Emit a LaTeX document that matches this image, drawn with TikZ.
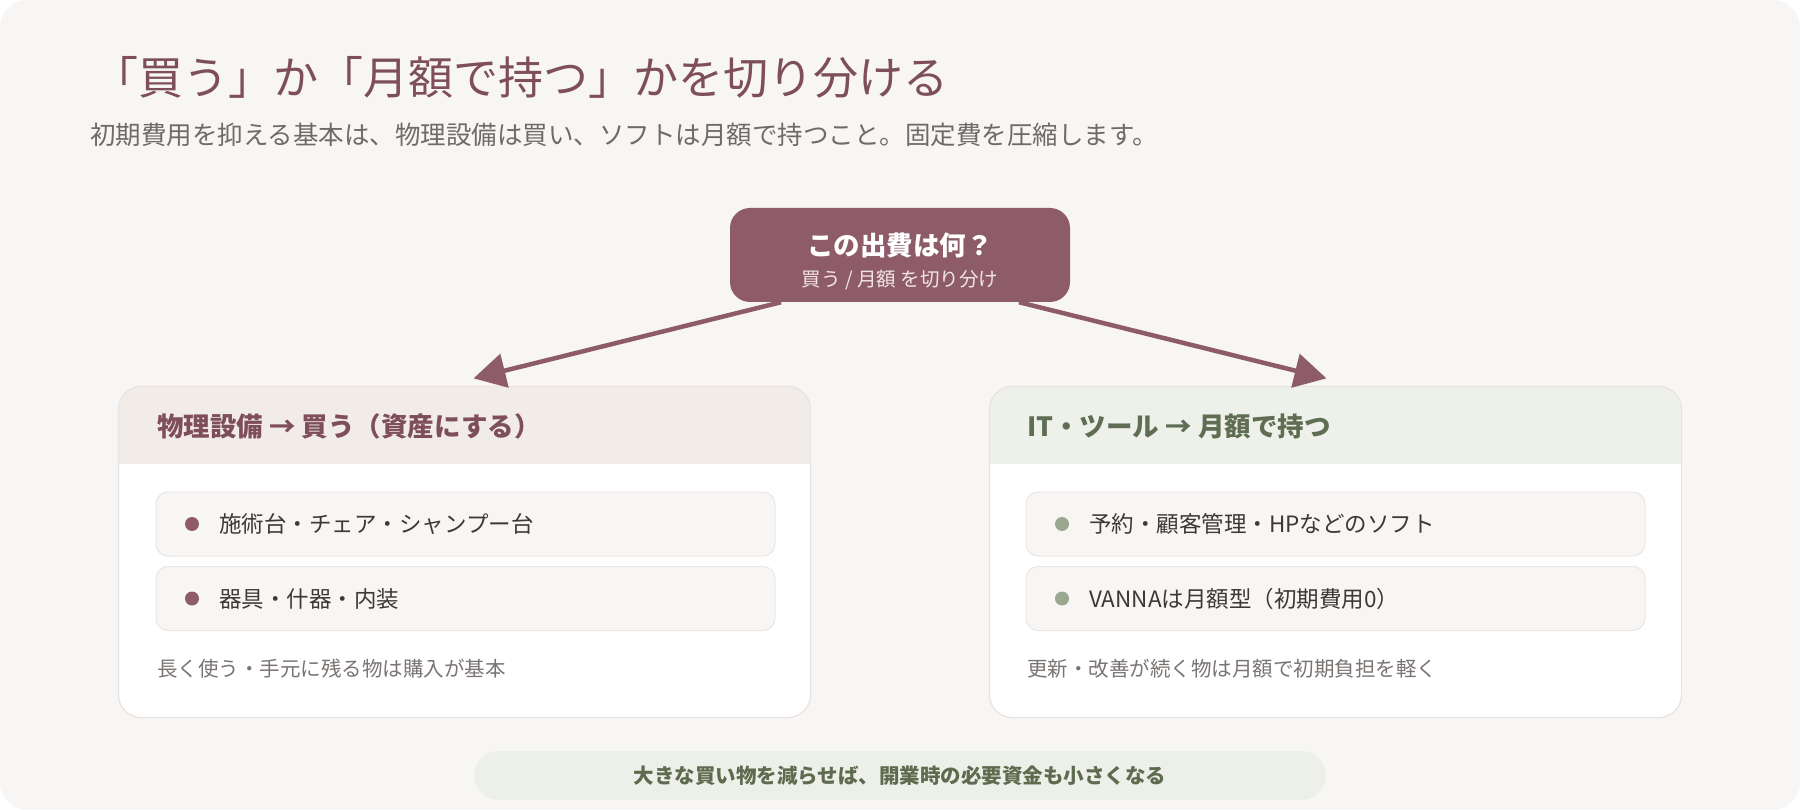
\documentclass[tikz,border=0pt]{standalone}
\usepackage{fontspec}
\setmainfont{Noto Sans CJK JP}
\usetikzlibrary{arrows.meta}
\usetikzlibrary{positioning}

\definecolor{pagebg}{HTML}{F8F6F4}
\definecolor{plum}{HTML}{8E5C69}
\definecolor{plumdark}{HTML}{7E4E5C}
\definecolor{subgrey}{HTML}{6F6A68}
\definecolor{buyhead}{HTML}{F2ECE9}
\definecolor{renthead}{HTML}{EEF0EA}
\definecolor{olive}{HTML}{5F6E52}
\definecolor{sage}{HTML}{9BA78E}
\definecolor{cardline}{HTML}{E9E3DF}
\definecolor{itembg}{HTML}{F8F6F4}
\definecolor{itemline}{HTML}{ECE6E2}
\definecolor{ink}{HTML}{3D3838}
\definecolor{note}{HTML}{7A7472}
\definecolor{pill}{HTML}{EDF0E8}
\definecolor{pilltext}{HTML}{5E6B4F}
\definecolor{qsub}{HTML}{F1E4E8}

\begin{document}
\begin{tikzpicture}[x=1pt,y=-1pt,
	card/.style={draw=cardline,line width=1.2pt,rounded corners=23pt,minimum width=691pt,minimum height=330pt,inner sep=0pt},
	item/.style={draw=itemline,fill=itembg,line width=1pt,rounded corners=12pt,minimum width=619pt,minimum height=64pt,inner sep=0pt},
	dot/.style={circle,minimum size=14pt,inner sep=0pt},
	itemtext/.style={anchor=west,text=ink,inner sep=0pt,font=\fontsize{22.5}{26}\selectfont},
	headtext/.style={anchor=west,inner sep=0pt,font=\fontsize{26.5}{30}\selectfont\bfseries},
	notetext/.style={anchor=west,text=note,inner sep=0pt,font=\fontsize{20.5}{24}\selectfont},
	arr/.style={draw=plum,line width=4.5pt,-{Triangle[length=32pt,width=34pt]}}]
	\useasboundingbox (0,0) rectangle (1800,810);
	\fill[white] (0,0) rectangle (1800,810);
	\fill[pagebg,rounded corners=28pt] (0,0) rectangle (1800,810);

	\node[anchor=west,text=plumdark,inner sep=0pt,font=\fontsize{45}{50}\selectfont] (title) at (93,77) {「買う」か「月額で持つ」かを切り分ける};
	\node[anchor=west,text=subgrey,inner sep=0pt,font=\fontsize{25.5}{30}\selectfont] (lead) at (90,135) {初期費用を抑える基本は、物理設備は買い、ソフトは月額で持つこと。固定費を圧縮します。};

	\node[fill=plum,rounded corners=20pt,minimum width=340pt,minimum height=94pt,inner sep=0pt] (q) at (900,255) {};
	\node[text=white,inner sep=0pt,font=\fontsize{26.5}{30}\selectfont\bfseries] (qt) at (900,245) {この出費は何？};
	\node[text=qsub,inner sep=0pt,font=\fontsize{19.5}{23}\selectfont] (qs) at (900,280) {買う / 月額 を切り分け};

	\node[card] (buy) at (464.5,552) {};
	\node[card] (rent) at (1335.5,552) {};
	\foreach \c/\h in {buy/buyhead,rent/renthead}{
		\begin{scope}
			\clip[rounded corners=23pt] (\c.north west) rectangle (\c.south east);
			\fill[white] (\c.north west) rectangle (\c.south east);
			\fill[\h] (\c.north west) rectangle ([yshift=-78pt]\c.north east);
		\end{scope}
		\draw[cardline,line width=1.2pt,rounded corners=23pt] (\c.north west) rectangle (\c.south east);
	}

	\draw[arr] ([xshift=-119pt]q.south) -- ([xshift=9pt,yshift=8pt]buy.north);
	\draw[arr] ([xshift=119pt]q.south) -- ([xshift=-9pt,yshift=8pt]rent.north);

	\node[headtext,text=plumdark] (buyh) at (157,426) {物理設備 → 買う（資産にする）};
	\node[item] (b1) at (465.5,524) {};
	\node[item] (b2) at (465.5,598.5) {};
	\node[dot,fill=plum] at (192,524) {};
	\node[dot,fill=plum] at (192,598.5) {};
	\node[itemtext] at (219,524) {施術台・チェア・シャンプー台};
	\node[itemtext] at (219,598.5) {器具・什器・内装};
	\node[notetext] (buyn) at (157,669) {長く使う・手元に残る物は購入が基本};

	\node[headtext,text=olive] (renth) at (1027,426) {IT・ツール → 月額で持つ};
	\node[item] (r1) at (1335.5,524) {};
	\node[item] (r2) at (1335.5,598.5) {};
	\node[dot,fill=sage] at (1062,524) {};
	\node[dot,fill=sage] at (1062,598.5) {};
	\node[itemtext] at (1089,524) {予約・顧客管理・HPなどのソフト};
	\node[itemtext] at (1089,598.5) {VANNAは月額型（初期費用0）};
	\node[notetext] (rentn) at (1027,669) {更新・改善が続く物は月額で初期負担を軽く};

	\node[fill=pill,rounded corners=24.5pt,minimum width=852pt,minimum height=49pt,inner sep=0pt,text=pilltext,font=\fontsize{20.5}{24}\selectfont\bfseries] (sum) at (900,775.5) {大きな買い物を減らせば、開業時の必要資金も小さくなる};
\end{tikzpicture}
\end{document}
